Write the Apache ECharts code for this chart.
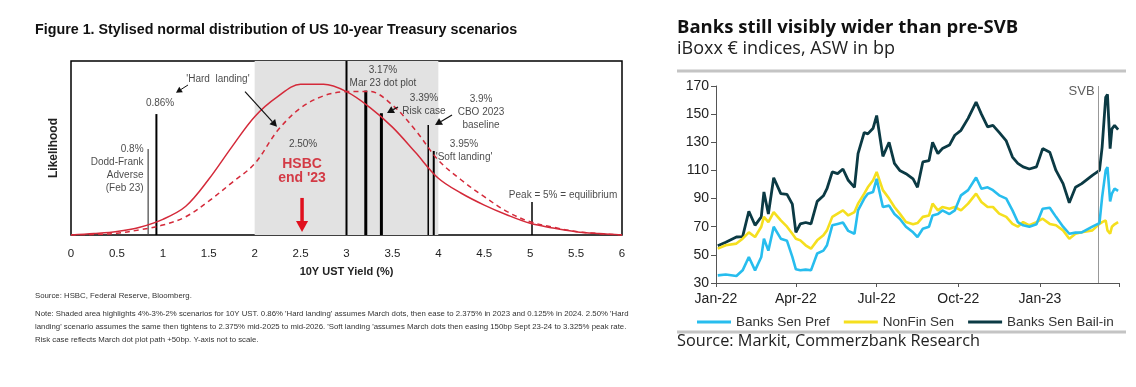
<!DOCTYPE html>
<html><head><meta charset="utf-8">
<script src="https://cdn.jsdelivr.net/npm/echarts@6/dist/echarts.min.js"></script>
<style>html,body{margin:0;padding:0;background:#fff}#c{width:1136px;height:387px}</style>
</head><body><div id="c"></div>
<script>
// ---------- Left chart: stylised distribution ----------
const yieldGrid = [0,0.25,0.5,0.75,1,1.25,1.5,1.75,2,2.25,2.5,2.75,3,3.25,3.5,3.75,4,4.25,4.5,4.75,5,5.25,5.5,5.75,6];
const baseCurve = [0,0.008,0.02,0.045,0.09,0.165,0.32,0.505,0.68,0.795,0.866,0.866,0.824,0.735,0.62,0.475,0.326,0.24,0.172,0.115,0.067,0.04,0.019,0.008,0];
const altCurve  = [0,0.003,0.01,0.03,0.057,0.105,0.195,0.3,0.41,0.6,0.73,0.8,0.824,0.825,0.747,0.603,0.43,0.316,0.22,0.134,0.076,0.045,0.02,0.008,0];
const scenarioYield  = [0.84,0.93,3.0,3.21,3.38,3.89,3.95,5.02];
const scenarioHeight = [0.494,0.695,1.0,0.83,0.70,0.632,0.483,0.19];
const shadedRange = [2,4];
const annText = ["'Hard  landing'","0.86%","0.8%\nDodd-Frank\nAdverse\n(Feb 23)","2.50%","HSBC\nend '23","3.17%\nMar 23 dot plot","3.39%\nRisk case","3.9%\nCBO 2023\nbaseline","3.95%\n'Soft landing'","Peak = 5% = equilibrium"];
const annX = [1.60,0.97,0.79,2.527,2.516,3.397,3.844,4.465,4.28,5.358];
const annY = [0.897,0.759,0.379,0.523,0.368,0.91,0.747,0.707,0.483,0.23];
const arrowFrom = [[1.274,0.862],[1.895,0.824],[3.561,0.736],[4.149,0.690],[2.516,0.213]];
const arrowTo   = [[1.143,0.818],[2.243,0.622],[3.441,0.701],[3.964,0.632],[2.516,0.017]];

// ---------- Right chart: iBoxx spreads ----------
const dates = ['2022-01-03','2022-01-12','2022-01-24','2022-01-31','2022-02-07','2022-02-14','2022-02-21','2022-02-24','2022-03-01','2022-03-07','2022-03-15','2022-03-22','2022-03-28','2022-04-01','2022-04-06','2022-04-12','2022-04-18','2022-04-25','2022-05-02','2022-05-06','2022-05-12','2022-05-18','2022-05-24','2022-05-30','2022-06-06','2022-06-10','2022-06-17','2022-06-21','2022-06-27','2022-07-01','2022-07-08','2022-07-15','2022-07-21','2022-07-27','2022-08-03','2022-08-11','2022-08-16','2022-08-22','2022-08-29','2022-09-02','2022-09-08','2022-09-13','2022-09-21','2022-09-27','2022-10-04','2022-10-12','2022-10-21','2022-10-27','2022-11-03','2022-11-09','2022-11-16','2022-11-24','2022-12-01','2022-12-07','2022-12-13','2022-12-20','2022-12-28','2023-01-04','2023-01-12','2023-01-19','2023-01-27','2023-02-03','2023-02-10','2023-02-17','2023-03-01','2023-03-09','2023-03-12','2023-03-16','2023-03-18','2023-03-21','2023-03-23','2023-03-26','2023-03-30'];
const bailIn = [56.5,59,62.7,63,81,71,77,94.7,79,104.8,93.5,93,86,66,72,73,72,88,92,97,109,107.7,111,103,98,122,137,136,140,149,120,130,115,110,107.7,104,98,116,117,130,122,125.5,128,135,138.5,147,158.6,150,141,142,137,131,119.5,115,112.5,111,112.5,125.5,123,110,100.6,87,98,100.6,106.5,110,126.6,162,164,125.5,139.6,142,139];
const senPref = [35.4,36,35,39,48.5,39,48.5,61.5,53,70,61.5,60,48.5,39.7,39,39.5,39,51,53,56.8,71,72,73,67,65,81.6,90,93.5,94.7,104,84,85,79,75.7,70,66,62.7,68.6,70,78,79,81.6,79,81.6,92.3,96,105,97,98,96,92.3,90,81.6,73.3,71,70,71.7,82.8,83.5,77,70,65,65.8,66,70,72.6,91,110,112.4,88,93.5,97,95.4];
const nonFin = [54.4,56.8,58,61.5,66,62.7,70,77,73.3,80.4,74.5,70,65,61.5,60.3,56.8,54.4,60.3,63.9,67.4,77,79.3,81.6,78,80.4,86.4,93.5,98,103,108.9,96,90,84,79.3,73.3,71.7,72.6,77,78,86.4,81.6,84,82.8,84,81.6,86.4,93.5,87.6,84,84,79.3,77,72,70,73.3,71,73.3,75.7,72,71,67.4,61.5,65,66,67.4,72,73.3,74.5,67.4,65,70,71.7,73.3];
const svbDate = '2023-03-08';
const quarterTicks = ['2022-01-01','2022-04-01','2022-07-01','2022-10-01','2023-01-01'];
const rightYTicks = [30,50,70,90,110,130,150,170];

// ---------- styles ----------
const NARROW = "'Liberation Sans Narrow','Arial Narrow','Liberation Sans',Arial,sans-serif";
const ARIAL = "'Liberation Sans',Arial,sans-serif";
const GOTHAM = "'Open Sans','Lato',sans-serif";
const RED = '#d42a3a';
const barWidths = [1.2,2,2,3,3,1.5,2,1.5];
const barColors = ['#444','#000','#000','#000','#000','#000','#000','#000'];
const arrowStyle = [
  {color:'#111', width:1, head:6},{color:'#111', width:1.2, head:7},
  {color:'#111', width:1.2, head:7},{color:'#111', width:1.2, head:7},
  {color:'#e0101e', width:3.5, head:11}];
const annStyle = annText.map((t,i)=> i===4
  ? {color:'#d0101e', fontWeight:'bold', fontSize:14, lineHeight:14, fontFamily:ARIAL}
  : {color:'#1a1a1a', fontSize:10, lineHeight:13, fontFamily:NARROW, align: i===2?'right':'center'});

const chart = echarts.init(document.getElementById('c'), null, {renderer:'canvas'});
const ts = d => +new Date(d+'T00:00:00Z');
const MON = ['Jan','Feb','Mar','Apr','May','Jun','Jul','Aug','Sep','Oct','Nov','Dec'];

function vbar(params, api){
  const x = api.value(0), h = api.value(1), i = api.value(2);
  const p0 = api.coord([x,0]), p1 = api.coord([x,h]);
  return {type:'line', shape:{x1:p0[0],y1:p0[1],x2:p1[0],y2:p1[1]}, style:{stroke:barColors[i], lineWidth:barWidths[i]}};
}
function arrow(params, api){
  const i = api.value(4), st = arrowStyle[i];
  const p1 = api.coord([api.value(0), api.value(1)]);
  const p2 = api.coord([api.value(2), api.value(3)]);
  const dx=p2[0]-p1[0], dy=p2[1]-p1[1], L=Math.hypot(dx,dy), ux=dx/L, uy=dy/L;
  const hl=st.head, hw=st.head*0.55, bx=p2[0]-ux*hl, by=p2[1]-uy*hl;
  return {type:'group', children:[
    {type:'line', shape:{x1:p1[0],y1:p1[1],x2:bx,y2:by}, style:{stroke:st.color, lineWidth:st.width}},
    {type:'polygon', shape:{points:[[p2[0],p2[1]],[bx-uy*hw,by+ux*hw],[bx+uy*hw,by-ux*hw]]}, style:{fill:st.color}}
  ]};
}

const option = {
  animation:false,
  backgroundColor:'#fff',
  grid:[
    {left:71, top:61, width:551, height:174, show:true, borderColor:'#000', borderWidth:1.5, backgroundColor:'transparent'},
    {left:716, top:86, width:403, height:197}
  ],
  xAxis:[
    {gridIndex:0, type:'value', min:0, max:6, interval:0.5,
     axisLine:{show:false}, axisTick:{show:false}, splitLine:{show:false},
     axisLabel:{color:'#222', fontSize:11.5, fontFamily:NARROW, margin:13, formatter:v=>String(v)},
     name:'10Y UST Yield (%)', nameLocation:'middle', nameGap:31,
     nameTextStyle:{fontWeight:'bold', fontSize:11, color:'#222', fontFamily:NARROW}},
    {gridIndex:1, type:'value', min:ts('2022-01-01'), max:ts('2023-03-31'),
     axisLine:{show:true, onZero:false, lineStyle:{color:'#555', width:1}},
     axisTick:{show:true, length:4, lineStyle:{color:'#555'}, customValues:quarterTicks.map(ts).concat([ts('2023-03-31')])},
     splitLine:{show:false},
     axisLabel:{color:'#222', fontSize:14, fontFamily:ARIAL, margin:9, hideOverlap:false,
       customValues:quarterTicks.map(ts),
       formatter:v=>{const d=new Date(v); return MON[d.getUTCMonth()]+'-'+String(d.getUTCFullYear()).slice(2);}}}
  ],
  yAxis:[
    {gridIndex:0, type:'value', min:0, max:1, axisLine:{show:false}, axisTick:{show:false}, axisLabel:{show:false}, splitLine:{show:false},
     name:'Likelihood', nameLocation:'middle', nameGap:11, nameRotate:90,
     nameTextStyle:{fontWeight:'bold', fontSize:12, color:'#222', fontFamily:ARIAL}},
    {gridIndex:1, type:'value', min:30, max:170, interval:10,
     axisLine:{show:true, lineStyle:{color:'#555'}}, axisTick:{show:true, length:5, lineStyle:{color:'#555'}, customValues:rightYTicks},
     splitLine:{show:false}, axisLabel:{color:'#222', fontSize:14, fontFamily:ARIAL, margin:7, customValues:rightYTicks}}
  ],
  legend:{left:692, top:310, itemWidth:34, itemHeight:3, itemGap:14, icon:'rect',
    textStyle:{fontSize:13.5, color:'#333', fontFamily:ARIAL},
    data:['Banks Sen Pref','NonFin Sen','Banks Sen Bail-in']},
  series:[
    {type:'line', xAxisIndex:0, yAxisIndex:0, data:[[0,0]], showSymbol:false, lineStyle:{opacity:0}, silent:true, z:1,
     markArea:{silent:true, itemStyle:{color:'#e2e2e2'}, data:[[{xAxis:shadedRange[0]},{xAxis:shadedRange[1]}]]}},
    {type:'custom', xAxisIndex:0, yAxisIndex:0, renderItem:vbar, z:3,
     data:scenarioYield.map((x,i)=>[x, scenarioHeight[i], i])},
    {type:'line', name:'base', xAxisIndex:0, yAxisIndex:0, smooth:0.35, showSymbol:false, z:4,
     lineStyle:{color:RED, width:1.5}, data:yieldGrid.map((x,i)=>[x, baseCurve[i]])},
    {type:'line', name:'alt', xAxisIndex:0, yAxisIndex:0, smooth:0.35, showSymbol:false, z:4,
     lineStyle:{color:RED, width:1.5, type:[5,4]}, data:yieldGrid.map((x,i)=>[x, altCurve[i]])},
    {type:'custom', xAxisIndex:0, yAxisIndex:0, renderItem:arrow, z:5,
     data:arrowFrom.map((f,i)=>[f[0],f[1],arrowTo[i][0],arrowTo[i][1],i])},
    {type:'scatter', xAxisIndex:0, yAxisIndex:0, symbolSize:0, z:6, silent:true,
     data:annText.map((t,i)=>({value:[annX[i],annY[i]],
       label:Object.assign({show:true, position:'inside', formatter:t}, annStyle[i])}))},
    // right chart
    {type:'line', name:'Banks Sen Bail-in', xAxisIndex:1, yAxisIndex:1, showSymbol:false, z:3,
     lineStyle:{color:'#0b3a44', width:2.8}, itemStyle:{color:'#0b3a44'},
     data:dates.map((d,i)=>[ts(d), bailIn[i]]),
     markLine:{silent:true, symbol:'none', label:{show:false}, lineStyle:{color:'#999', width:1, type:'solid'},
       data:[{xAxis:ts(svbDate)}]}},
    {type:'line', name:'NonFin Sen', xAxisIndex:1, yAxisIndex:1, showSymbol:false, z:4,
     lineStyle:{color:'#f5df1e', width:2.6}, itemStyle:{color:'#f5df1e'},
     data:dates.map((d,i)=>[ts(d), nonFin[i]])},
    {type:'line', name:'Banks Sen Pref', xAxisIndex:1, yAxisIndex:1, showSymbol:false, z:5,
     lineStyle:{color:'#27bdee', width:2.6}, itemStyle:{color:'#27bdee'},
     data:dates.map((d,i)=>[ts(d), senPref[i]])},
    {type:'scatter', xAxisIndex:1, yAxisIndex:1, symbolSize:0, silent:true,
     data:[{value:[ts(svbDate),166], label:{show:true, position:'left', distance:4, formatter:'SVB', color:'#333', fontSize:13, fontFamily:ARIAL}}]}
  ],
  graphic:[
    {type:'text', left:35, top:23, style:{text:'Figure 1. Stylised normal distribution of US 10-year Treasury scenarios', font:"bold 14.3px 'Liberation Sans',Arial,sans-serif", fill:'#111'}},
    {type:'text', left:35, top:292, style:{text:'Source: HSBC, Federal Reserve, Bloomberg.', font:"7.8px "+NARROW, fill:'#333'}},
    {type:'text', left:35, top:307, style:{text:"Note: Shaded area highlights 4%-3%-2% scenarios for 10Y UST. 0.86% 'Hard landing' assumes March dots, then ease to 2.375% in 2023 and 0.125% in 2024. 2.50% 'Hard\nlanding' scenario assumes the same then tightens to 2.375% mid-2025 to mid-2026. 'Soft landing 'assumes March dots then easing 150bp Sept 23-24 to 3.325% peak rate.\nRisk case reflects March dot plot path +50bp. Y-axis not to scale.", font:"7.8px "+NARROW, fill:'#333', lineHeight:13}},
    {type:'text', left:677, top:18, style:{text:'Banks still visibly wider than pre-SVB', font:"bold 18.5px "+GOTHAM, fill:'#111'}},
    {type:'text', left:677, top:40, style:{text:'iBoxx € indices, ASW in bp', font:"18px "+GOTHAM, fill:'#222'}},
    {type:'rect', shape:{x:677, y:69.5, width:449, height:3}, style:{fill:'#c4c4c4'}},
    {type:'rect', shape:{x:677, y:330.5, width:449, height:3}, style:{fill:'#c4c4c4'}},
    {type:'text', left:677, top:333, style:{text:'Source: Markit, Commerzbank Research', font:"16.3px "+GOTHAM, fill:'#222'}}
  ]
};
chart.setOption(option);
</script></body></html>
